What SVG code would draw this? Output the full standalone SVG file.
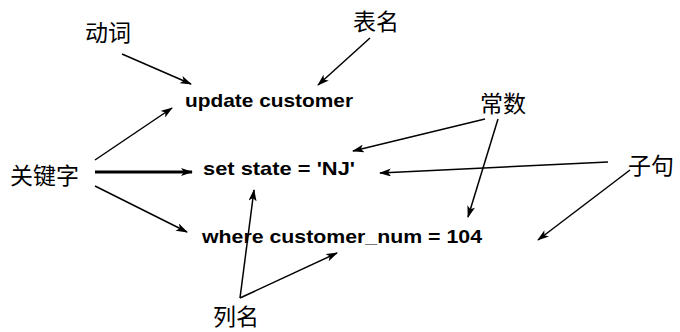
<svg xmlns="http://www.w3.org/2000/svg" width="680" height="332" viewBox="0 0 680 332">
  <style>
    .lbl { font-family: "Noto Sans CJK SC", "Noto Sans", sans-serif; font-size: 23px; fill: #000; }
    .sql { font-family: "Liberation Sans", Arial, sans-serif; font-size: 19px; font-weight: bold; fill: #000; }
    .arr { stroke: #000; stroke-width: 1.5; fill: none; marker-end: url(#head); }
    .thick { stroke-width: 3; }
  </style>
  <defs>
    <marker id="head" viewBox="0 0 12 8" refX="11" refY="4" markerWidth="12" markerHeight="8" markerUnits="userSpaceOnUse" orient="auto">
      <path d="M0,0 L12,4 L0,8 L3,4 Z" fill="#000"/>
    </marker>
  </defs>
  <rect width="680" height="332" fill="#fff"/>

  <!-- SQL statement lines -->
  <g id="stmt-update"><text class="sql" x="185" y="107" textLength="168" lengthAdjust="spacingAndGlyphs">update customer</text></g>
  <g id="stmt-set"><text class="sql" x="203" y="175" textLength="152" lengthAdjust="spacingAndGlyphs">set state = 'NJ'</text></g>
  <g id="stmt-where"><text class="sql" x="202" y="243" textLength="280" lengthAdjust="spacingAndGlyphs">where customer_num = 104</text></g>

  <!-- annotation labels -->
  <g id="verb"><text class="lbl" x="85" y="41">动词</text></g>
  <g id="table-name"><text class="lbl" x="353" y="30">表名</text></g>
  <g id="constant"><text class="lbl" x="480" y="112">常数</text></g>
  <g id="clause"><text class="lbl" x="628" y="174">子句</text></g>
  <g id="keyword"><text class="lbl" x="10" y="184">关键字</text></g>
  <g id="column-name"><text class="lbl" x="213" y="325">列名</text></g>

  <!-- connectors -->
  <g id="connectors">
    <line class="arr" x1="122" y1="54" x2="191" y2="84"/>
    <line class="arr" x1="370" y1="38" x2="318" y2="85"/>
    <line class="arr" x1="95" y1="160" x2="172" y2="108"/>
    <line class="arr thick" x1="95" y1="172" x2="192" y2="172"/>
    <line class="arr" x1="95" y1="186" x2="187" y2="232"/>
    <line class="arr" x1="485" y1="119" x2="353" y2="151"/>
    <line class="arr" x1="498" y1="119" x2="468" y2="217"/>
    <line class="arr" x1="608" y1="162" x2="380" y2="173"/>
    <line class="arr" x1="630" y1="170" x2="538" y2="240"/>
    <line class="arr" x1="240" y1="298" x2="254" y2="190"/>
    <line class="arr" x1="240" y1="298" x2="337" y2="253"/>
  </g>
</svg>
